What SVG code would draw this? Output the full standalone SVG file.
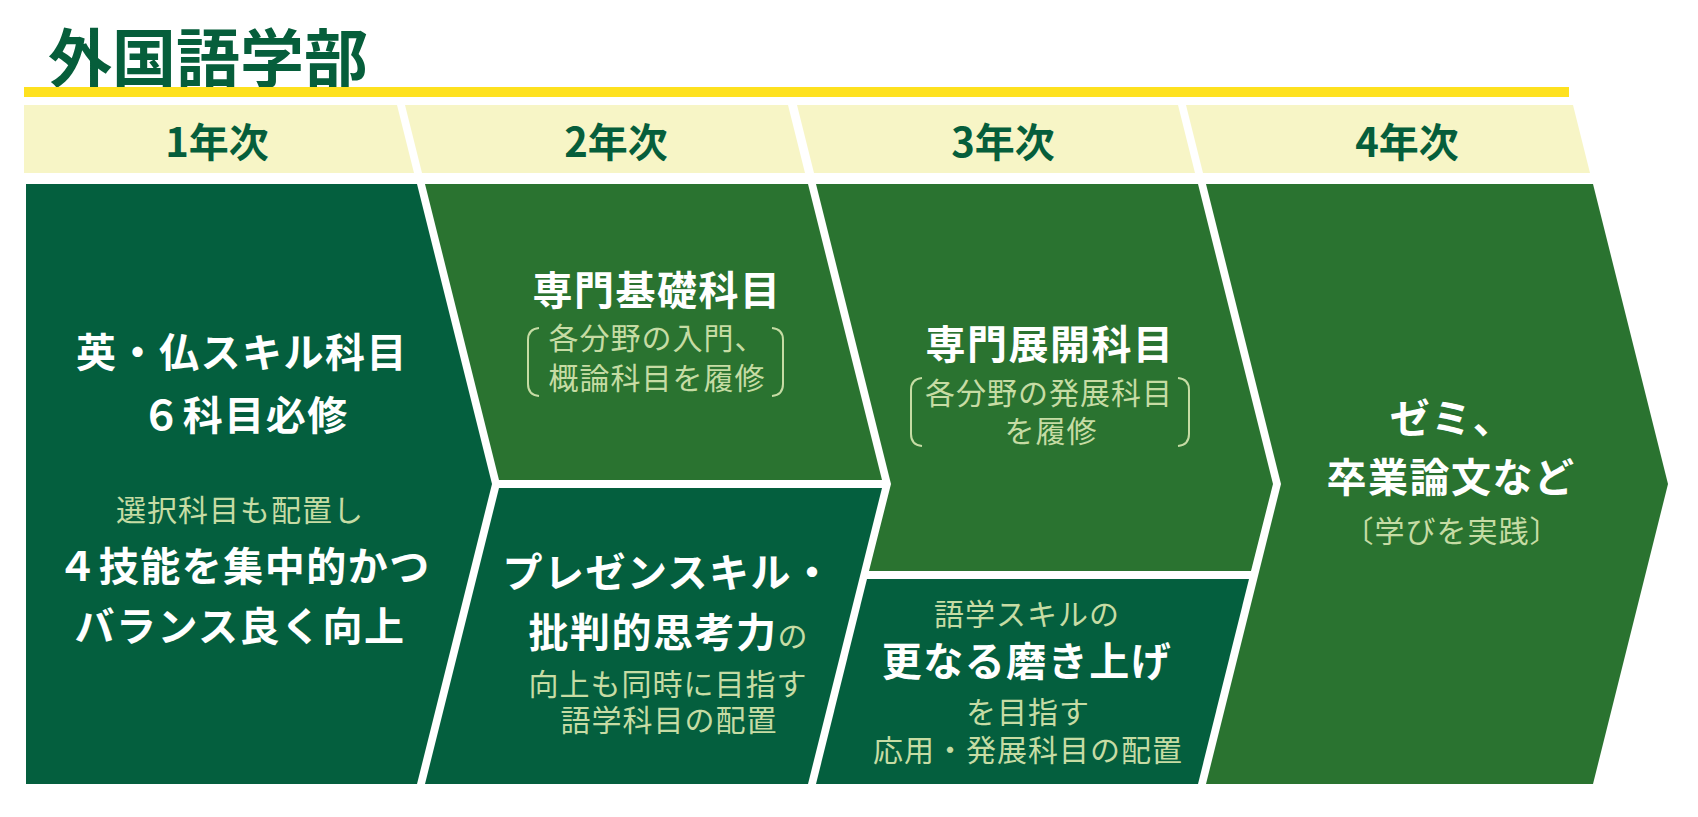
<svg xmlns="http://www.w3.org/2000/svg" width="1698" height="817" viewBox="0 0 1698 817">
<style>
.dk{fill:#045f3e}
.lt{fill:#2a7330}
.hd{fill:#f7f5c6}
.ht{font-family:"Noto Sans CJK JP","Noto Sans",sans-serif;font-weight:700;font-size:40px;fill:#065e3b;text-anchor:middle}
.b{font-family:"Noto Sans CJK JP",sans-serif;font-weight:700;font-size:40px;fill:#ffffff;text-anchor:middle;letter-spacing:1.5px}
.s{font-family:"Noto Sans CJK JP",sans-serif;font-weight:400;font-size:30px;fill:#c6dca4;text-anchor:middle;letter-spacing:1px}
.br{fill:none;stroke:#c6dca4;stroke-width:2}
</style>
<rect width="1698" height="817" fill="#ffffff"/>
<g id="title">
<text x="48" y="82" font-family="Noto Sans CJK JP,sans-serif" font-weight="700" font-size="64" fill="#065e3b">外国語学部</text>
<rect x="24" y="87" width="1545" height="10" fill="#fee11f"/>
</g>
<g id="headers">
<polygon class="hd" points="24,105 397,105 414,173 24,173"/>
<polygon class="hd" points="405,105 788,105 805,173 422,173"/>
<polygon class="hd" points="797,105 1178,105 1195,173 814,173"/>
<polygon class="hd" points="1186,105 1573,105 1590,173 1203,173"/>
<text class="ht" x="217" y="157">1年次</text>
<text class="ht" x="616" y="157">2年次</text>
<text class="ht" x="1003" y="157">3年次</text>
<text class="ht" x="1407" y="157">4年次</text>
</g>
<g id="year1">
<polygon class="dk" points="26,184 417,184 492,484 417,784 26,784"/>
<text class="b" x="242" y="367">英・仏スキル科目</text>
<text class="b" x="245" y="430">６科目必修</text>
<text class="s" x="240" y="521">選択科目も配置し</text>
<text class="b" x="244" y="581">４技能を集中的かつ</text>
<text class="b" x="240" y="641">バランス良く向上</text>
</g>
<g id="year2-basic">
<polygon class="lt" points="425,184 808,184 882,480 499,480"/>
<text class="b" x="657" y="305">専門基礎科目</text>
<path class="br" d="M539,328 Q528,329 528,340 L528,384 Q528,395 539,396"/>
<path class="br" d="M772,328 Q783,329 783,340 L783,384 Q783,395 772,396"/>
<text class="s" x="657" y="349">各分野の入門、</text>
<text class="s" x="657" y="389">概論科目を履修</text>
</g>
<g id="year2-skill">
<polygon class="dk" points="499,488 882,488 808,784 425,784"/>
<text class="b" x="668" y="587">プレゼンスキル・</text>
<text x="668" y="647" text-anchor="middle" font-family="Noto Sans CJK JP,sans-serif"><tspan font-weight="700" font-size="40" fill="#ffffff" letter-spacing="1.5">批判的思考力</tspan><tspan font-size="30" fill="#c6dca4">の</tspan></text>
<text class="s" x="668" y="695">向上も同時に目指す</text>
<text class="s" x="669" y="731">語学科目の配置</text>
</g>
<g id="year3-dev">
<polygon class="lt" points="816,184 1198,184 1273,484 1251,571 869,571 891,484"/>
<text class="b" x="1050" y="359">専門展開科目</text>
<path class="br" d="M922,378 Q911,379 911,390 L911,434 Q911,445 922,446"/>
<path class="br" d="M1178,378 Q1189,379 1189,390 L1189,434 Q1189,445 1178,446"/>
<text class="s" x="1049" y="404">各分野の発展科目</text>
<text class="s" x="1051" y="442">を履修</text>
</g>
<g id="year3-skill">
<polygon class="dk" points="867,579 1249,579 1198,784 816,784"/>
<text class="s" x="1027" y="625">語学スキルの</text>
<text class="b" x="1027" y="676">更なる磨き上げ</text>
<text class="s" x="1028" y="723">を目指す</text>
<text class="s" x="1028" y="761">応用・発展科目の配置</text>
</g>
<g id="year4">
<polygon class="lt" points="1206,184 1593,184 1668,484 1593,784 1206,784 1281,484"/>
<text class="b" x="1452" y="433">ゼミ、</text>
<text class="b" x="1451" y="492">卒業論文など</text>
<text class="s" x="1452" y="542">〔学びを実践〕</text>
</g>
<g id="connectors"></g>
</svg>
